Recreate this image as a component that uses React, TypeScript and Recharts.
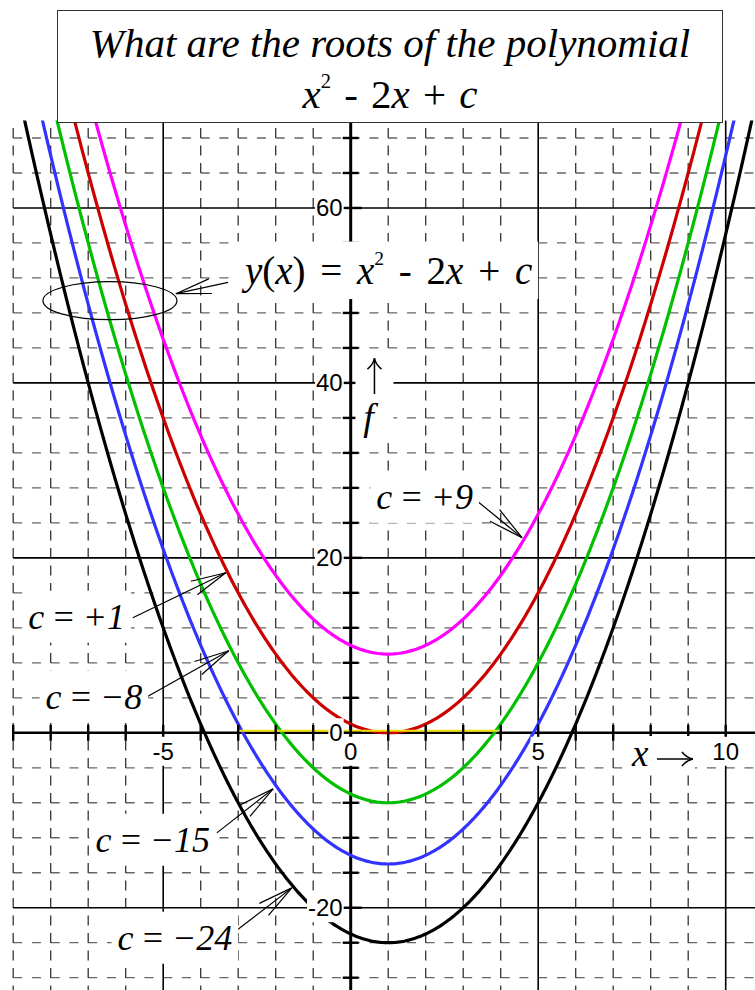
import React, { useLayoutEffect, useRef, useState } from "react";
import { LineChart, Line, XAxis, YAxis, ReferenceLine, ReferenceDot } from "recharts";

// polynomial family y = x^2 - 2x + c, one curve per c
const cLabels = ["c = +9", "c = +1", "c = \u22128", "c = \u221215", "c = \u221224"];
const curveKeys = ["cp9", "cp1", "cm8", "cm15", "cm24"];
const curveColors = ["#ff00ff", "#cc0000", "#00c000", "#3333ff", "#000000"];
// lowest value reached by each curve (vertex at x = 1)
const curveMinima = [9, 0, -8, -15, -24];

// highlighted stretch of the x axis
const yellowSpan = [-3, 3.93];

// where each c label sits (right end, baseline) and where its arrow points
const cLabelAnchors = [
  [3.26, 25.6],
  [-6.02, 11.9],
  [-5.56, 2.75],
  [-3.75, -13.6],
  [-3.16, -24.8],
];
const arrowTails = [
  [3.37, 26.5],
  [-5.81, 13.16],
  [-5.43, 4.12],
  [-3.57, -11.44],
  [-3.03, -22.54],
];
const arrowTips = [
  [4.57, 22.3],
  [-3.33, 18.3],
  [-3.25, 9.38],
  [-2.07, -6.41],
  [-1.57, -17.73],
];

const xTickLabels = [-5, 0, 5, 10];
const yTickLabels = [-20, 0, 20, 40, 60];
const xMajor = [-5, 5, 10];
const yMajor = [-20, 20, 40, 60];

const X_DOMAIN = [-9, 11];
const Y_DOMAIN = [-30, 70];

const xMinor = Array.from({ length: 21 }, (_, i) => i - 9).filter((v) => v % 5 !== 0);
const yMinor = Array.from({ length: 25 }, (_, i) => i * 4 - 28).filter((v) => v % 20 !== 0);
const xTicks = Array.from({ length: 21 }, (_, i) => i - 9);
const yTicks = Array.from({ length: 25 }, (_, i) => i * 4 - 28);

const xSamples = Array.from({ length: 401 }, (_, i) => -9 + i * 0.05);
const curveData = xSamples.map((x) => {
  const row: Record<string, number> = { x };
  curveKeys.forEach((k, i) => {
    row[k] = (x - 1) * (x - 1) + curveMinima[i];
  });
  return row;
});

const SERIF = "'Liberation Serif', 'Times New Roman', serif";
const SANS = "'Liberation Sans', Arial, sans-serif";

type BoxedProps = {
  x: number;
  y: number;
  anchor?: "start" | "middle" | "end";
  pad?: number;
  fontSize: number;
  fontFamily: string;
  fontStyle?: string;
  wordSpacing?: number;
  children: React.ReactNode;
};

// text on a white box, so grid lines and curves do not run through it
function BoxedText({ x, y, anchor = "start", pad = 2, fontSize, fontFamily, fontStyle, wordSpacing, children }: BoxedProps) {
  const ref = useRef<SVGTextElement>(null);
  const [box, setBox] = useState<{ x: number; y: number; w: number; h: number } | null>(null);
  useLayoutEffect(() => {
    if (ref.current) {
      const b = ref.current.getBBox();
      setBox({ x: b.x, y: b.y, w: b.width, h: b.height });
    }
  }, [x, y]);
  return (
    <g>
      {box && (
        <rect x={box.x - pad} y={box.y - pad} width={box.w + pad * 2} height={box.h + pad * 2} fill="#fff" />
      )}
      <text
        ref={ref}
        x={x}
        y={y}
        textAnchor={anchor}
        fontSize={fontSize}
        fontFamily={fontFamily}
        fontStyle={fontStyle}
        style={wordSpacing ? { wordSpacing } : undefined}
        fill="#000"
      >
        {children}
      </text>
    </g>
  );
}

function Arrow(p: any) {
  const { x1, y1, x2, y2 } = p;
  const ang = Math.atan2(y1 - y2, x1 - x2);
  const len = 36;
  const spread = 0.21;
  const b1 = [x2 + len * Math.cos(ang + spread), y2 + len * Math.sin(ang + spread)];
  const b2 = [x2 + len * Math.cos(ang - spread), y2 + len * Math.sin(ang - spread)];
  return (
    <g stroke="#000" strokeWidth={1.2} fill="none">
      <line x1={x1} y1={y1} x2={x2} y2={y2} />
      <line x1={x2} y1={y2} x2={b1[0]} y2={b1[1]} />
      <line x1={x2} y1={y2} x2={b2[0]} y2={b2[1]} />
    </g>
  );
}

function Sup({ children, size, rise = 0.5 }: { children: React.ReactNode; size: number; rise?: number }) {
  return (
    <>
      <tspan dy={-size * rise} fontSize={size * 0.5} fontStyle="normal">
        {children}
      </tspan>
      <tspan dy={size * rise}> </tspan>
    </>
  );
}

// "↑ f" beside the vertical axis
function FAxisLabel(p: any) {
  const { cx, cy } = p;
  return (
    <g>
      <rect x={cx - 14} y={cy - 66} width={38} height={90} fill="#fff" />
      <g stroke="#000" strokeWidth={1.5} fill="none">
        <line x1={cx + 5} y1={cy - 22} x2={cx + 5} y2={cy - 57} />
        <path d={`M${cx - 2} ${cy - 47} Q${cx + 4} ${cy - 52} ${cx + 5} ${cy - 58} Q${cx + 6} ${cy - 52} ${cx + 12} ${cy - 47}`} />
      </g>
      <text x={cx - 1} y={cy + 14} textAnchor="middle" fontSize={38} fontFamily={SERIF} fontStyle="italic">
        f
      </text>
    </g>
  );
}

// "x →" below the horizontal axis
function XAxisLabel(p: any) {
  const { cx, cy } = p;
  return (
    <g>
      <rect x={cx - 3} y={cy - 30} width={66} height={38} fill="#fff" />
      <text x={cx} y={cy} fontSize={37} fontFamily={SERIF} fontStyle="italic">
        x
      </text>
      <g stroke="#000" strokeWidth={1.5} fill="none">
        <line x1={cx + 25} y1={cy - 7} x2={cx + 60} y2={cy - 7} />
        <path d={`M${cx + 50} ${cy - 14} Q${cx + 55} ${cy - 8} ${cx + 61} ${cy - 7} Q${cx + 55} ${cy - 6} ${cx + 50} ${cy}`} />
      </g>
    </g>
  );
}

function Title() {
  return (
    <div
      style={{
        position: "absolute",
        left: 57,
        top: 10,
        width: 664,
        height: 111,
        border: "1px solid #333",
        background: "#fff",
      }}
    >
      <svg width={664} height={111} style={{ display: "block" }}>
        <text x={332} y={46} textAnchor="middle" fontFamily={SERIF} fontStyle="italic" fontSize={41}>
          What are the roots of the polynomial
        </text>
        <text x={332} y={97} textAnchor="middle" fontFamily={SERIF} fontSize={41} style={{ wordSpacing: 3 }}>
          <tspan fontStyle="italic">x</tspan>
          <Sup size={41}>2</Sup>
          <tspan>- 2</tspan>
          <tspan fontStyle="italic">x</tspan>
          <tspan> + </tspan>
          <tspan fontStyle="italic">c</tspan>
        </text>
      </svg>
    </div>
  );
}

export default function App() {
  return (
    <div
      style={{
        position: "absolute",
        left: 0,
        top: 0,
        width: 755,
        height: 990,
        overflow: "hidden",
        background: "#fff",
      }}
    >
      <LineChart
        width={764}
        height={996}
        data={curveData}
        margin={{ top: 120.5, left: 13.2, right: 0.8, bottom: 0.8 }}
      >
        <XAxis type="number" dataKey="x" domain={X_DOMAIN} allowDataOverflow hide />
        <YAxis type="number" domain={Y_DOMAIN} allowDataOverflow hide />

        {yMinor.map((v) => (
          <ReferenceLine
            key={`hy${v}`}
            segment={[
              { x: X_DOMAIN[0], y: v },
              { x: X_DOMAIN[1], y: v },
            ]}
            stroke="#666"
            strokeWidth={1.3}
            strokeDasharray="9 9.75"
          />
        ))}
        {xMinor.map((v) => (
          <ReferenceLine
            key={`vx${v}`}
            segment={[
              { x: v, y: Y_DOMAIN[1] },
              { x: v, y: Y_DOMAIN[0] },
            ]}
            stroke="#333"
            strokeWidth={1.3}
            strokeDasharray="10 7.5"
            strokeDashoffset={10}
          />
        ))}
        {yMajor.map((v) => (
          <ReferenceLine key={`my${v}`} y={v} stroke="#000" strokeWidth={1.6} />
        ))}
        {xMajor.map((v) => (
          <ReferenceLine key={`mx${v}`} x={v} stroke="#000" strokeWidth={1.6} />
        ))}

        <ReferenceLine y={0} stroke="#000" strokeWidth={2.5} />
        <ReferenceLine x={0} stroke="#000" strokeWidth={3} />
        {xTicks.map((v) => (
          <ReferenceDot
            key={`tx${v}`}
            x={v}
            y={0}
            r={1}
            shape={(p: any) => <line x1={p.cx} x2={p.cx} y1={p.cy - 8} y2={p.cy + 8} stroke="#000" strokeWidth={2.4} />}
          />
        ))}
        {yTicks.map((v) => (
          <ReferenceDot
            key={`ty${v}`}
            x={0}
            y={v}
            r={1}
            shape={(p: any) => (
              <line x1={p.cx - 8} x2={p.cx + (v % 20 === 0 ? 11 : 8)} y1={p.cy} y2={p.cy} stroke="#000" strokeWidth={2.4} />
            )}
          />
        ))}

        {curveKeys.map((k, i) => (
          <Line
            key={k}
            type="linear"
            dataKey={k}
            stroke={curveColors[i]}
            strokeWidth={3.2}
            dot={false}
            isAnimationActive={false}
          />
        ))}

        <ReferenceLine
          segment={[
            { x: yellowSpan[0], y: 0 },
            { x: yellowSpan[1], y: 0 },
          ]}
          shape={(p: any) => (
            <line x1={p.x1} y1={p.y1 - 2} x2={p.x2} y2={p.y2 - 2} stroke="#f0e000" strokeWidth={2} />
          )}
        />

        {arrowTails.map((t, i) => (
          <ReferenceLine
            key={`ar${i}`}
            segment={[
              { x: t[0], y: t[1] },
              { x: arrowTips[i][0], y: arrowTips[i][1] },
            ]}
            shape={Arrow}
          />
        ))}
        <ReferenceLine
          segment={[
            { x: -3.27, y: 51.5 },
            { x: -4.66, y: 50.2 },
          ]}
          shape={Arrow}
        />
        <ReferenceDot
          x={-6.42}
          y={49.4}
          r={1}
          shape={(p: any) => (
            <ellipse cx={p.cx} cy={p.cy} rx={67} ry={19} fill="none" stroke="#000" strokeWidth={1.2} />
          )}
        />

        {yTickLabels.map((v) => (
          <ReferenceDot
            key={`ly${v}`}
            x={0}
            y={v}
            r={1}
            shape={(p: any) => (
              <BoxedText x={p.cx - 8} y={p.cy + 8.5} anchor="end" fontSize={24} fontFamily={SANS} pad={1}>
                {String(v)}
              </BoxedText>
            )}
          />
        ))}
        {xTickLabels.map((v) => (
          <ReferenceDot
            key={`lx${v}`}
            x={v}
            y={0}
            r={1}
            shape={(p: any) => (
              <BoxedText x={p.cx} y={p.cy + 27} anchor="middle" fontSize={24} fontFamily={SANS} pad={1}>
                {String(v)}
              </BoxedText>
            )}
          />
        ))}

        {cLabelAnchors.map((a, i) => (
          <ReferenceDot
            key={`lc${i}`}
            x={a[0]}
            y={a[1]}
            r={1}
            shape={(p: any) => (
              <BoxedText
                x={p.cx}
                y={p.cy}
                anchor="end"
                fontSize={36}
                fontFamily={SERIF}
                fontStyle="italic"
                wordSpacing={-2}
                pad={6}
              >
                {cLabels[i]}
              </BoxedText>
            )}
          />
        ))}

        <ReferenceDot
          x={-2.82}
          y={51.3}
          r={1}
          shape={(p: any) => (
            <BoxedText x={p.cx} y={p.cy} fontSize={39} fontFamily={SERIF} wordSpacing={5} pad={6}>
              <tspan fontStyle="italic">y</tspan>
              <tspan>(</tspan>
              <tspan fontStyle="italic">x</tspan>
              <tspan>) = </tspan>
              <tspan fontStyle="italic">x</tspan>
              <Sup size={39}>2</Sup>
              <tspan>- 2</tspan>
              <tspan fontStyle="italic">x</tspan>
              <tspan> + </tspan>
              <tspan fontStyle="italic">c</tspan>
            </BoxedText>
          )}
        />
        <ReferenceDot x={0.5} y={36.2} r={1} shape={FAxisLabel} />
        <ReferenceDot x={7.5} y={-3.8} r={1} shape={XAxisLabel} />
      </LineChart>
      <Title />
    </div>
  );
}
